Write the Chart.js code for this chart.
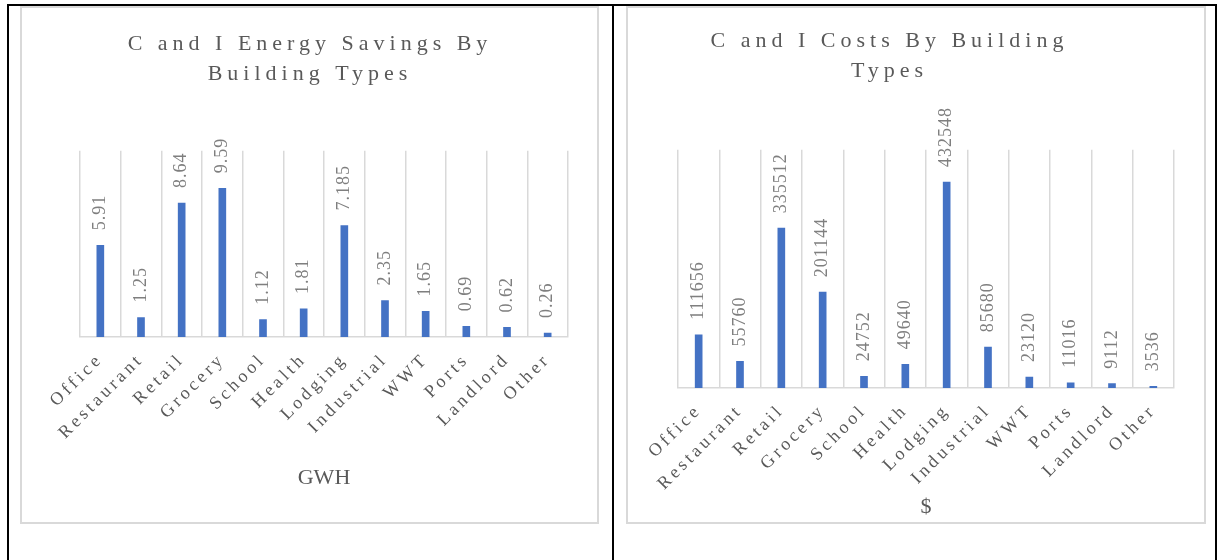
<!DOCTYPE html>
<html>
<head>
<meta charset="utf-8">
<script src="https://cdn.jsdelivr.net/npm/chart.js@4/dist/chart.umd.min.js"></script>
<style>
  body { margin: 0; background: #fff; width: 1219px; height: 560px; position: relative; overflow: hidden; }
  .line { position: absolute; background: #000; }
  .box { position: absolute; border: 2px solid #d9d9d9; box-sizing: border-box; }
  canvas { position: absolute; }
</style>
</head>
<body>
<div class="line" style="left:7px;top:4px;width:1210px;height:2px"></div>
<div class="line" style="left:7px;top:4px;width:2px;height:560px"></div>
<div class="line" style="left:612px;top:4px;width:2px;height:560px"></div>
<div class="line" style="left:1215px;top:4px;width:2px;height:560px"></div>
<div class="box" style="left:20px;top:6px;width:579px;height:518px"></div>
<div class="box" style="left:626px;top:6px;width:580px;height:518px"></div>
<canvas id="savingsChart" width="578" height="515" style="left:21px;top:7px"></canvas>
<canvas id="costsChart" width="605" height="515" style="left:600px;top:7px"></canvas>
<script>
// dati dei due grafici
var categorie = ["Office", "Restaurant", "Retail", "Grocery", "School", "Health",
  "Lodging", "Industrial", "WWT", "Ports", "Landlord", "Other"];
var risparmi = [5.91, 1.25, 8.64, 9.59, 1.12, 1.81, 7.185, 2.35, 1.65, 0.69, 0.62, 0.26];
var costi = [111656, 55760, 335512, 201144, 24752, 49640, 432548, 85680, 23120, 11016, 9112, 3536];

var serif = "'Liberation Serif', 'Times New Roman', serif";
var grigio = "#595959";
var blu = "#4472C4";

// letter spacing for title and tick labels (canvas ctx.letterSpacing)
var spaziatura = {
  id: "spaziatura",
  afterUpdate: function (chart) {
    var t = chart.titleBlock;
    if (t && !t._spaced) {
      var drawT = t.draw;
      t.draw = function () {
        this.ctx.save();
        this.ctx.letterSpacing = "5px";
        drawT.apply(this, arguments);
        this.ctx.restore();
      };
      t._spaced = true;
    }
    var x = chart.scales.x;
    if (x && !x._spaced) {
      var drawL = x.drawLabels;
      x.drawLabels = function () {
        this.ctx.save();
        this.ctx.letterSpacing = "3.5px";
        drawL.apply(this, arguments);
        this.ctx.restore();
      };
      x._spaced = true;
    }
  }
};

// etichette dei valori, ruotate sopra le barre
var etichette = {
  id: "etichette",
  afterDatasetsDraw: function (chart) {
    var ctx = chart.ctx;
    var ds = chart.data.datasets[0];
    var meta = chart.getDatasetMeta(0);
    ctx.save();
    ctx.font = "18px " + serif;
    ctx.fillStyle = "#7f7f7f";
    ctx.letterSpacing = "1px";
    ctx.textAlign = "left";
    ctx.textBaseline = "middle";
    meta.data.forEach(function (bar, i) {
      ctx.save();
      ctx.translate(bar.x, bar.y - 15);
      ctx.rotate(-Math.PI / 2);
      ctx.fillText(String(ds.data[i]), 0, 0);
      ctx.restore();
    });
    ctx.restore();
  }
};

function opzioni(titolo, padTitolo, yMax, yLarghezza, xAltezza, xTitolo, xTitoloPad, padding) {
  return {
    responsive: false,
    animation: false,
    devicePixelRatio: 1,
    layout: { padding: padding },
    plugins: {
      legend: { display: false },
      tooltip: { enabled: false },
      title: {
        display: true,
        text: titolo,
        color: grigio,
        font: { family: serif, size: 22, weight: "normal", lineHeight: 1.36 },
        padding: padTitolo
      }
    },
    scales: {
      x: {
        grid: { color: "#d9d9d9", lineWidth: 1.5, drawTicks: false, offset: true },
        border: { color: "#d9d9d9", width: 1.5 },
        ticks: {
          color: grigio,
          font: { family: serif, size: 18 },
          minRotation: 45,
          maxRotation: 45,
          padding: 12,
          autoSkip: false
        },
        title: {
          display: true,
          text: xTitolo,
          color: grigio,
          font: { family: serif, size: 22 },
          padding: xTitoloPad
        },
        afterFit: function (s) { s.height = xAltezza; }
      },
      y: {
        min: 0,
        max: yMax,
        grid: { display: false },
        border: { display: false },
        ticks: { display: false },
        afterFit: function (s) { s.width = yLarghezza; }
      }
    }
  };
}

new Chart(document.getElementById("savingsChart"), {
  type: "bar",
  data: {
    labels: categorie,
    datasets: [{
      label: "GWH",
      data: risparmi,
      backgroundColor: blu,
      barThickness: 7
    }]
  },
  options: opzioni(["C and I Energy Savings By", "Building Types"], { top: 22, bottom: 62 },
    12, 28, 158, "GWH", { top: 4, bottom: 4 }, { left: 31, right: 31, top: 0, bottom: 27 }),
  plugins: [spaziatura, etichette]
});

new Chart(document.getElementById("costsChart"), {
  type: "bar",
  data: {
    labels: categorie,
    datasets: [{
      label: "$",
      data: costi,
      backgroundColor: blu,
      barThickness: 7
    }]
  },
  options: opzioni(["C and I Costs By Building", "Types"], { top: 19, bottom: 64 },
    500000, 73, 132, "$", { top: 0, bottom: 0 }, { left: 5, right: 31, top: 0, bottom: 2 }),
  plugins: [spaziatura, etichette]
});
</script>
</body>
</html>
